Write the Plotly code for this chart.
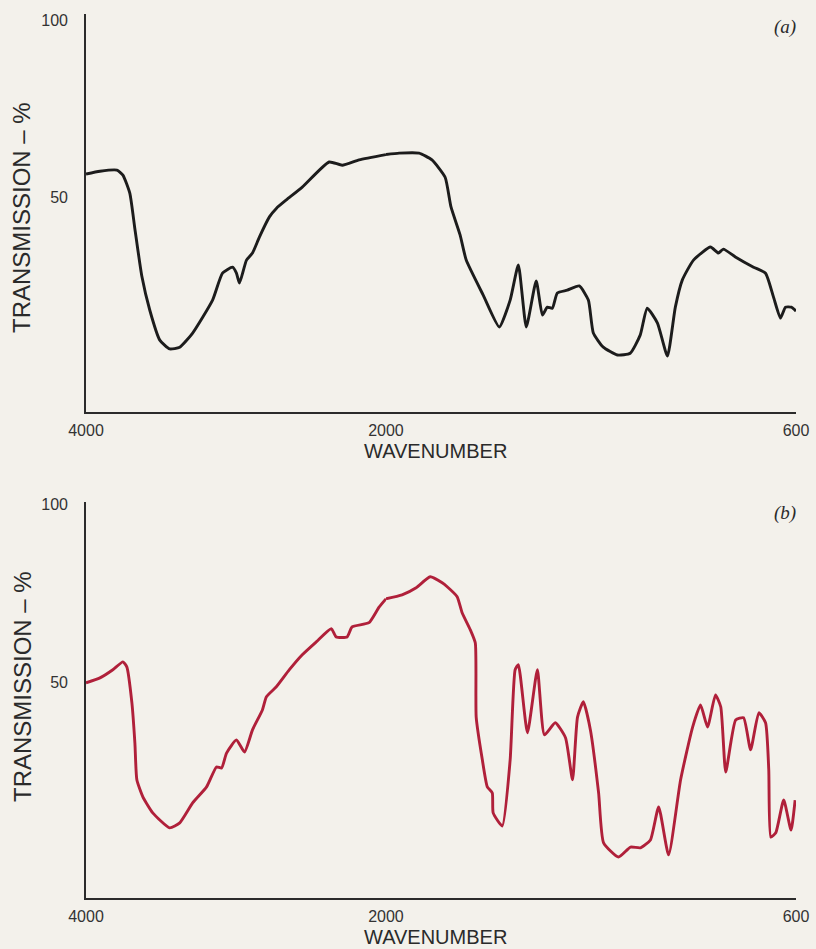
import plotly.graph_objects as go

# ---------------- data ----------------
wn_a = [4000, 3907, 3794, 3754, 3708, 3674, 3628, 3575, 3508, 3442, 3375, 3289, 3156, 3090,
        3023, 2997, 2977, 2930, 2890, 2844, 2777, 2731, 2664, 2558, 2379, 2292, 2179, 2000,
        1955, 1887, 1843, 1798, 1778, 1747, 1726, 1668, 1613, 1576, 1548, 1521, 1487, 1466,
        1449, 1432, 1415, 1381, 1340, 1309, 1292, 1258, 1210, 1166, 1132, 1108, 1073, 1039,
        1012, 988, 950, 892, 865, 848, 807, 745, 704, 677, 653, 636, 616, 600]
tr_a = [56.5, 57.3, 57.6, 56.2, 51.1, 41.0, 27.7, 18.1, 9.6, 7.1, 7.6, 11.6, 20.9, 28.5,
        30.2, 28.5, 25.7, 32.2, 34.2, 38.7, 44.4, 46.8, 49.2, 52.8, 59.9, 59.0, 60.5, 62.0,
        62.4, 62.4, 60.5, 55.6, 47.2, 39.3, 32.2, 22.3, 13.3, 20.9, 30.8, 13.3, 26.3, 16.7,
        18.9, 18.6, 22.9, 23.7, 24.9, 20.9, 11.6, 7.6, 5.4, 5.9, 11.0, 18.6, 14.4, 5.1,
        18.9, 26.6, 32.2, 35.9, 34.2, 35.3, 33.1, 30.2, 28.5, 21.8, 15.8, 18.9, 18.9, 17.8]

wn_b = [4000, 3907, 3821, 3754, 3728, 3694, 3674, 3661, 3621, 3555, 3442, 3375, 3289, 3196,
        3130, 3096, 3063, 2997, 2943, 2890, 2824, 2797, 2731, 2644, 2558, 2465, 2365, 2332,
        2259, 2226, 2113, 2046, 2000, 1945, 1897, 1849, 1808, 1791, 1757, 1740, 1712, 1695,
        1692, 1671, 1654, 1637, 1634, 1603, 1576, 1559, 1548, 1517, 1483, 1459, 1422, 1387,
        1363, 1346, 1326, 1302, 1274, 1257, 1206, 1165, 1131, 1097, 1069, 1035, 994, 953,
        926, 902, 875, 857, 840, 806, 779, 755, 727, 704, 693, 686, 669, 642, 617, 603]
tr_b = [50.0, 51.4, 53.7, 55.9, 54.5, 44.4, 33.1, 22.8, 18.0, 13.5, 9.3, 10.7, 16.3, 20.8,
        26.4, 26.1, 30.3, 34.0, 30.6, 36.8, 42.4, 46.1, 48.9, 53.7, 57.9, 61.5, 65.2, 62.9,
        62.9, 65.7, 66.9, 71.3, 73.6, 74.7, 76.7, 79.8, 78.1, 77.0, 74.2, 69.7, 64.9, 61.2,
        40.4, 28.4, 20.8, 19.1, 13.5, 9.8, 28.4, 53.7, 55.1, 36.0, 53.7, 35.4, 38.8, 34.6,
        22.8, 40.4, 44.7, 36.8, 19.1, 5.1, 1.1, 3.9, 3.7, 5.9, 15.2, 1.7, 22.8, 37.6,
        43.8, 37.6, 46.6, 43.3, 25.0, 39.6, 40.2, 31.2, 41.6, 38.8, 25.6, 6.7, 7.9, 17.1, 8.7, 17.1]

x_breaks = [4000, 2000, 600]
y_ticks = [50, 100]
panel_labels = ["(a)", "(b)"]

# ---------------- layout geometry ----------------
W, H = 816, 949
ML, MR, MT, MB = 86, 20, 14, 51
split = 0.4225          # where the 2000 scale change sits (fraction of plot width)
top_dom = [0.5498, 1.0]
bot_dom = [0.0, 0.448]

BG = "#f3f1eb"
AX = "#2b2b2b"
FONT = "Liberation Sans, Arial, sans-serif"

fig = go.Figure()

def split_series(wn, tr):
    left = [(w, t) for w, t in zip(wn, tr) if w >= x_breaks[1]]
    right = [(w, t) for w, t in zip(wn, tr) if w <= x_breaks[1]]
    return left, right

series = [(wn_a, tr_a, "#1c1c1c", ("x", "y"), ("x2", "y")),
          (wn_b, tr_b, "#b0203a", ("x3", "y2"), ("x4", "y2"))]

for wn, tr, col, axl, axr in series:
    left, right = split_series(wn, tr)
    for seg, (xa, ya) in ((left, axl), (right, axr)):
        fig.add_trace(go.Scatter(
            x=[p[0] for p in seg], y=[p[1] for p in seg],
            mode="lines", line=dict(color=col, width=2.9, shape="spline", smoothing=0.5),
            xaxis=xa, yaxis=ya, showlegend=False, hoverinfo="x+y"))

xcommon = dict(showgrid=False, zeroline=False, showline=True, linecolor=AX, linewidth=1.6,
               ticks="", tickfont=dict(family=FONT, size=16, color="#333"), fixedrange=True,
               ticklabelstandoff=3, automargin=False)
ycommon = dict(showgrid=False, zeroline=False, showline=True, linecolor=AX, linewidth=1.6,
               ticks="", tickvals=y_ticks, tickfont=dict(family=FONT, size=16, color="#333"),
               ticklabelstandoff=13, automargin=False)

fig.update_layout(
    width=W, height=H,
    margin=dict(l=ML, r=MR, t=MT, b=MB),
    paper_bgcolor=BG, plot_bgcolor=BG,
    xaxis=dict(domain=[0, split], range=[x_breaks[0], x_breaks[1]], anchor="y",
               tickvals=[x_breaks[0], x_breaks[1]], **xcommon),
    xaxis2=dict(domain=[split, 1], range=[x_breaks[1], x_breaks[2]], anchor="y",
                tickvals=[x_breaks[2]], **xcommon),
    yaxis=dict(domain=top_dom, range=[-10.7, 101.7], anchor="x", **ycommon),
    xaxis3=dict(domain=[0, split], range=[x_breaks[0], x_breaks[1]], anchor="y2",
                tickvals=[x_breaks[0], x_breaks[1]], **xcommon),
    xaxis4=dict(domain=[split, 1], range=[x_breaks[1], x_breaks[2]], anchor="y2",
                tickvals=[x_breaks[2]], **xcommon),
    yaxis2=dict(domain=bot_dom, range=[-10.4, 100.8], anchor="x3", **ycommon),
)

def px_x(px):
    return (px - ML) / (W - ML - MR)

def px_y(py):
    return (H - MB - py) / (H - MT - MB)

ann = []
for yc in (218, 687):
    ann.append(dict(text="TRANSMISSION – %", x=px_x(22), y=px_y(yc), xref="paper", yref="paper",
                    xanchor="center", yanchor="middle",
                    textangle=-90, showarrow=False, font=dict(family=FONT, size=24, color="#2a2a2a")))
for yc in (451, 937):
    ann.append(dict(text="WAVENUMBER", x=px_x(435), y=px_y(yc), xref="paper", yref="paper",
                    xanchor="center", yanchor="middle",
                    showarrow=False, font=dict(family=FONT, size=20, color="#2a2a2a")))
for lab, yc in zip(panel_labels, (27, 513)):
    ann.append(dict(text="<i>" + lab + "</i>", x=px_x(785), y=px_y(yc), xref="paper", yref="paper",
                    xanchor="center", yanchor="middle",
                    showarrow=False, font=dict(family="Liberation Serif, serif", size=19, color="#2a2a2a")))
fig.update_layout(annotations=ann)

fig.write_html("out.html", config={"displayModeBar": False},
               post_script="document.body.style.margin='0';document.body.style.padding='0';"
                           "document.body.style.background='" + BG + "';")
